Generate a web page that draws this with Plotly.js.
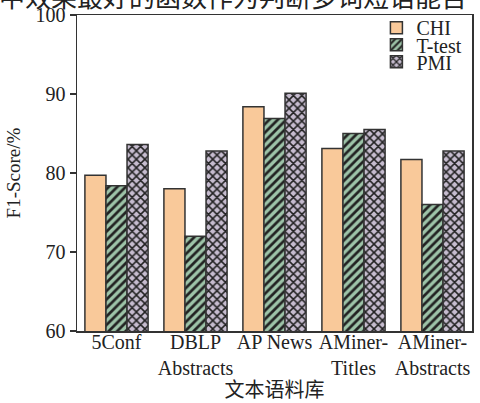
<!DOCTYPE html>
<html><head><meta charset="utf-8">
<script src="https://cdn.plot.ly/plotly-3.0.1.min.js"></script>
<style>html,body{margin:0;padding:0;background:#fff}#chart{width:480px;height:403px}</style>
</head><body><div id="chart"></div>
<script>
var categories = ["5Conf", "DBLP<br>Abstracts", "AP News", "AMiner-<br>Titles", "AMiner-<br>Abstracts"];
var chiValues = [79.7, 78.0, 88.4, 83.1, 81.7];
var ttestValues = [78.4, 72.0, 86.9, 85.0, 76.0];
var pmiValues = [83.6, 82.8, 90.1, 85.5, 82.8];
var yTickVals = [60, 70, 80, 90, 100];
var topText = "中效果最好的函数作为判断多词短语能否";

var serif = "Liberation Serif, Times New Roman, serif";
var lineCol = "#333333";
var txtCol = "#222222";

var traces = [
  {type: "bar", name: "CHI", x: categories, y: chiValues, legend: "legend",
   marker: {color: "#f9c99a", line: {color: lineCol, width: 1.5}}},
  {type: "bar", name: "T-test", x: categories, y: ttestValues, legend: "legend2",
   marker: {color: "#9dc3a8", line: {color: lineCol, width: 1.5},
            pattern: {shape: "/", fgcolor: "#222222", bgcolor: "#9dc3a8", size: 6, solidity: 0.45, fillmode: "replace"}}},
  {type: "bar", name: "PMI", x: categories, y: pmiValues, legend: "legend3",
   marker: {color: "#c6bccf", line: {color: lineCol, width: 1.5},
            pattern: {shape: "x", fgcolor: "#222222", bgcolor: "#c6bccf", size: 6, solidity: 0.45, fillmode: "replace"}}}
];

function leg(y) {
  return {x: 0.758, y: y, xanchor: "left", yanchor: "middle", bgcolor: "rgba(0,0,0,0)", borderwidth: 0,
          font: {family: serif, size: 20, color: txtCol}};
}

var layout = {
  width: 480, height: 403,
  margin: {l: 77, r: 8, t: 15, b: 72},
  paper_bgcolor: "#ffffff", plot_bgcolor: "#ffffff",
  barmode: "group", bargap: 0.2, bargroupgap: 0,
  font: {family: serif, size: 20, color: txtCol},
  showlegend: true,
  legend: leg(0.960),
  legend2: leg(0.906),
  legend3: leg(0.852),
  xaxis: {showline: true, mirror: true, linecolor: lineCol, linewidth: 1.5, ticks: "outside", ticklen: 0,
          tickfont: {family: serif, size: 20, color: txtCol}, automargin: false, ticklabelstandoff: -8,
          title: {text: "文本语料库", font: {family: "Noto Sans CJK SC", size: 20, color: txtCol}, standoff: 3}},
  yaxis: {range: [60, 100], tickvals: yTickVals, ticks: "outside", ticklen: 6, tickcolor: lineCol, tickwidth: 1.5,
          showline: true, mirror: true, linecolor: lineCol, linewidth: 1.5, showgrid: false, zeroline: false,
          tickfont: {family: serif, size: 20, color: txtCol}, automargin: false,
          title: {text: "F1-Score/%", font: {family: serif, size: 19, color: txtCol}, standoff: 10}},
  annotations: [{text: topText, xref: "paper", yref: "paper", x: 0.395, y: 1, yanchor: "bottom", yshift: -1,
                 xanchor: "center", showarrow: false,
                 font: {family: "Noto Sans CJK SC", size: 26, color: txtCol}}]
};

Plotly.newPlot("chart", traces, layout, {displayModeBar: false, staticPlot: true});
</script></body></html>
